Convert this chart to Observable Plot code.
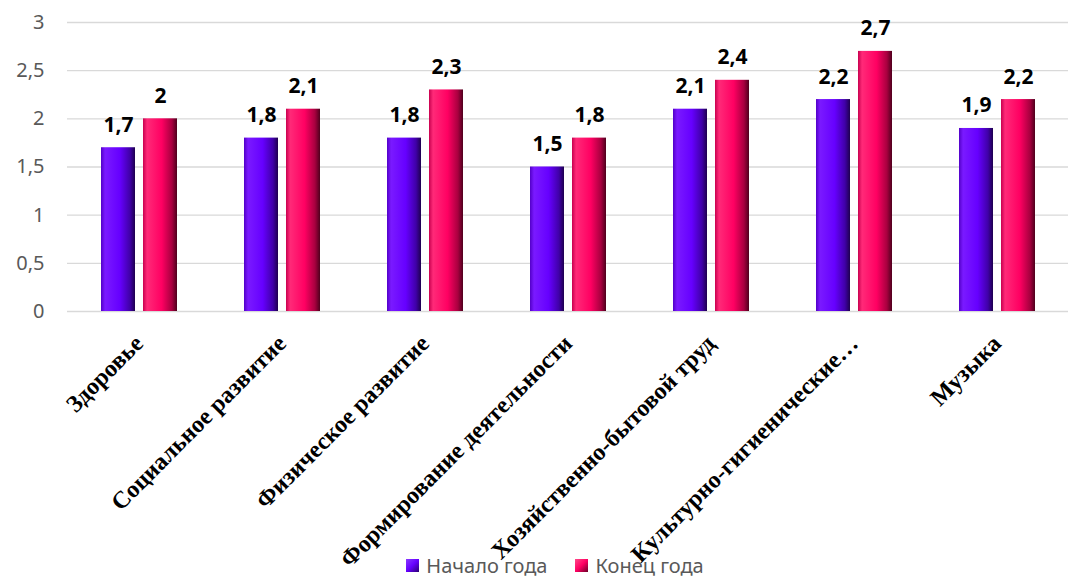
<!DOCTYPE html>
<html>
<head>
<meta charset="utf-8">
<script src="https://cdn.jsdelivr.net/npm/d3@7"></script>
<script src="https://cdn.jsdelivr.net/npm/@observablehq/plot@0.6"></script>
<style>
  body { margin: 0; background: #fff; }
  #wrap { position: relative; width: 1088px; height: 578px; overflow: hidden; }
  #legend { position: absolute; left: 0; right: 0; top: 552px; display: flex; justify-content: center; gap: 28px;
            font-family: "Noto Sans", sans-serif; font-size: 20px; color: #595959; padding-left: 22px; }
  .item { display: flex; align-items: center; gap: 7px; }
  .sw { width: 13px; height: 13px; display: inline-block; }
</style>
</head>
<body>
<div id="wrap"><div id="chart"></div><div id="legend"></div></div>
<script>
const categories = ["Здоровье", "Социальное развитие", "Физическое развитие", "Формирование деятельности",
  "Хозяйственно-бытовой труд", "Культурно-гигиенические…", "Музыка"];
const series = ["Начало года", "Конец года"];
const startValues = [1.7, 1.8, 1.8, 1.5, 2.1, 2.2, 1.9];
const endValues = [2.0, 2.1, 2.3, 1.8, 2.4, 2.7, 2.2];
const yTicks = [0, 0.5, 1, 1.5, 2, 2.5, 3];
const seriesFills = ["url(#gp)", "url(#gr)"];

const data = categories.flatMap((c, i) => [
  {cat: c, s: series[0], v: startValues[i]},
  {cat: c, s: series[1], v: endValues[i]}
]);
const fmt = d => String(d).replace(".", ",");

const chart = Plot.plot({
  width: 1088, height: 578,
  marginTop: 22, marginBottom: 267, marginLeft: 65, marginRight: 18,
  fx: {domain: categories, padding: 0, label: null},
  x: {domain: series, paddingInner: 0.2, paddingOuter: 0.8, axis: null},
  y: {domain: [0, 3], axis: null},
  style: {fontFamily: "Noto Sans, sans-serif", overflow: "visible"},
  marks: [
    Plot.gridY(yTicks, {stroke: "#d9d9d9", strokeOpacity: 1, strokeWidth: 1.3}),
    Plot.axisY(yTicks, {tickSize: 0, tickPadding: 23, tickFormat: fmt, fontSize: 20, fill: "#595959", label: null}),
    Plot.axisFx({anchor: "bottom", tickRotate: -45, tickSize: 0, tickPadding: 28, fontSize: 24, fontWeight: "bold",
                 fontFamily: "Liberation Serif, serif", fill: "#000", label: null}),
    Plot.barY(data.filter(d => d.s === series[0]), {fx: "cat", x: "s", y: "v", fill: seriesFills[0]}),
    Plot.barY(data.filter(d => d.s === series[1]), {fx: "cat", x: "s", y: "v", fill: seriesFills[1]}),
    Plot.text(data, {fx: "cat", x: "s", y: "v", text: d => fmt(d.v), dy: -16, lineAnchor: "bottom",
                     fontSize: 21, fontWeight: "bold", fill: "#000"})
  ]
});

chart.insertAdjacentHTML("afterbegin", `<defs>
  <linearGradient id="gp" x1="0" x2="1" y1="0" y2="0">
    <stop offset="0" stop-color="#5200c8"/><stop offset="0.12" stop-color="#7a1aff"/>
    <stop offset="0.55" stop-color="#6600ff"/><stop offset="0.85" stop-color="#4000a8"/>
    <stop offset="1" stop-color="#1e004f"/>
  </linearGradient>
  <linearGradient id="gr" x1="0" x2="1" y1="0" y2="0">
    <stop offset="0" stop-color="#c8004f"/><stop offset="0.12" stop-color="#ff2a78"/>
    <stop offset="0.55" stop-color="#ff0062"/><stop offset="0.85" stop-color="#a8003f"/>
    <stop offset="1" stop-color="#4f001d"/>
  </linearGradient>
</defs>`);
document.getElementById("chart").appendChild(chart);

const legend = document.getElementById("legend");
const legendGrads = [
  "linear-gradient(135deg, #8a3aff 0%, #6600ff 50%, #2a0070 100%)",
  "linear-gradient(135deg, #ff4a8a 0%, #ff0062 50%, #6a0028 100%)"
];
series.forEach((s, i) => {
  const it = document.createElement("div");
  it.className = "item";
  it.innerHTML = `<span class="sw" style="background:${legendGrads[i]}"></span><span>${s}</span>`;
  legend.appendChild(it);
});
</script>
</body>
</html>
